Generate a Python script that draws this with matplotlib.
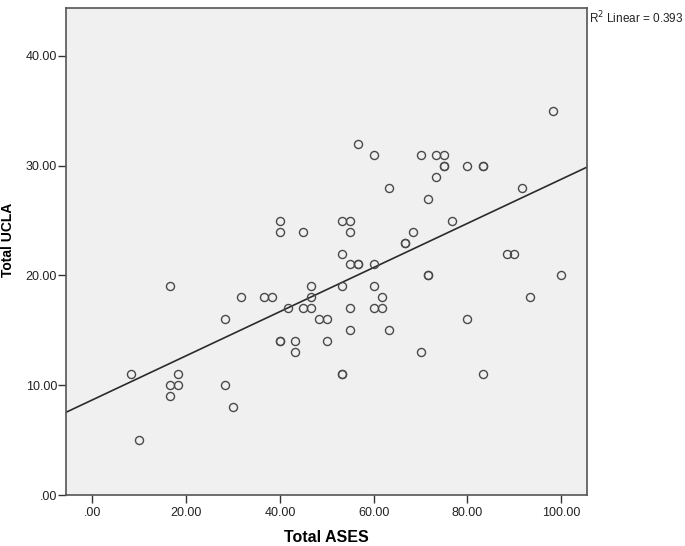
import numpy as np
import matplotlib.pyplot as plt
from matplotlib.ticker import FuncFormatter

# Total ASES (x) and Total UCLA (y)
ases = [8.33, 10, 16.67, 16.67, 16.67, 18.33, 18.33, 28.33, 28.33, 30,
        31.67, 36.67, 38.33, 40, 40, 40, 40, 41.67, 43.33, 43.33,
        45, 45, 46.67, 46.67, 46.67, 48.33, 50, 50, 53.33, 53.33,
        53.33, 53.33, 53.33, 55, 55, 55, 55, 55, 56.67, 56.67,
        56.67, 60, 60, 60, 60, 61.67, 61.67, 63.33, 63.33, 66.67,
        66.67, 68.33, 70, 70, 71.67, 71.67, 71.67, 73.33, 73.33, 75,
        75, 75, 76.67, 80, 80, 83.33, 83.33, 83.33, 88.33, 90,
        91.67, 93.33, 98.33, 100]
ucla = [11, 5, 19, 10, 9, 11, 10, 16, 10, 8,
        18, 18, 18, 25, 24, 14, 14, 17, 14, 13,
        24, 17, 19, 18, 17, 16, 16, 14, 25, 22,
        19, 11, 11, 25, 24, 21, 17, 15, 32, 21,
        21, 31, 21, 19, 17, 18, 17, 28, 15, 23,
        23, 24, 31, 13, 27, 20, 20, 31, 29, 31,
        30, 30, 25, 30, 16, 30, 30, 11, 22, 22,
        28, 18, 35, 20]
r2_text = '0.393'

x = np.array(ases)
y = np.array(ucla)

plt.rcParams['font.family'] = ['Liberation Sans', 'DejaVu Sans']

fig = plt.figure(figsize=(6.85, 5.46), dpi=100)
ax = fig.add_axes([0.0964, 0.0934, 0.7606, 0.8926])
ax.set_facecolor('#f0f0f0')

ax.plot(x, y, 'o', mfc='none', mec='#4a4a4a', ms=5.8, mew=1.0, zorder=3)

# linear fit line across the whole axis
slope, icpt = np.polyfit(x, y, 1)
xlim = (-5.6, 105.5)
xs = np.array(xlim)
ax.plot(xs, icpt + slope * xs, color='#2b2b2b', lw=1.2, zorder=2)

ax.set_xlim(xlim)
ax.set_ylim(0, 44.4)
ax.set_xticks([0, 20, 40, 60, 80, 100])
ax.set_yticks([0, 10, 20, 30, 40])

fmt = FuncFormatter(lambda v, p: ('%.2f' % v).lstrip('0') if v == 0 else '%.2f' % v)
ax.xaxis.set_major_formatter(fmt)
ax.yaxis.set_major_formatter(fmt)
ax.tick_params(direction='out', length=6, width=1, colors='#333333',
               labelsize=9, labelcolor='#222222')
ax.tick_params(axis='y', pad=0.5)
ax.tick_params(axis='x', pad=2.5)

for s in ax.spines.values():
    s.set_color('#555555')
    s.set_linewidth(1.2)

ax.set_xlabel('Total ASES', fontsize=11.5, fontweight='bold')
ax.set_ylabel('Total UCLA', fontsize=10, fontweight='bold')
ax.xaxis.set_label_coords(0.5, -0.072)
ax.yaxis.set_label_coords(-0.098, 0.523)

fig.text(589 / 685, 1 - 18 / 546, r'R$^2$ Linear = ' + r2_text, fontsize=8.5,
         ha='left', va='center', color='#222222')

fig.savefig('out.png', dpi=100)
